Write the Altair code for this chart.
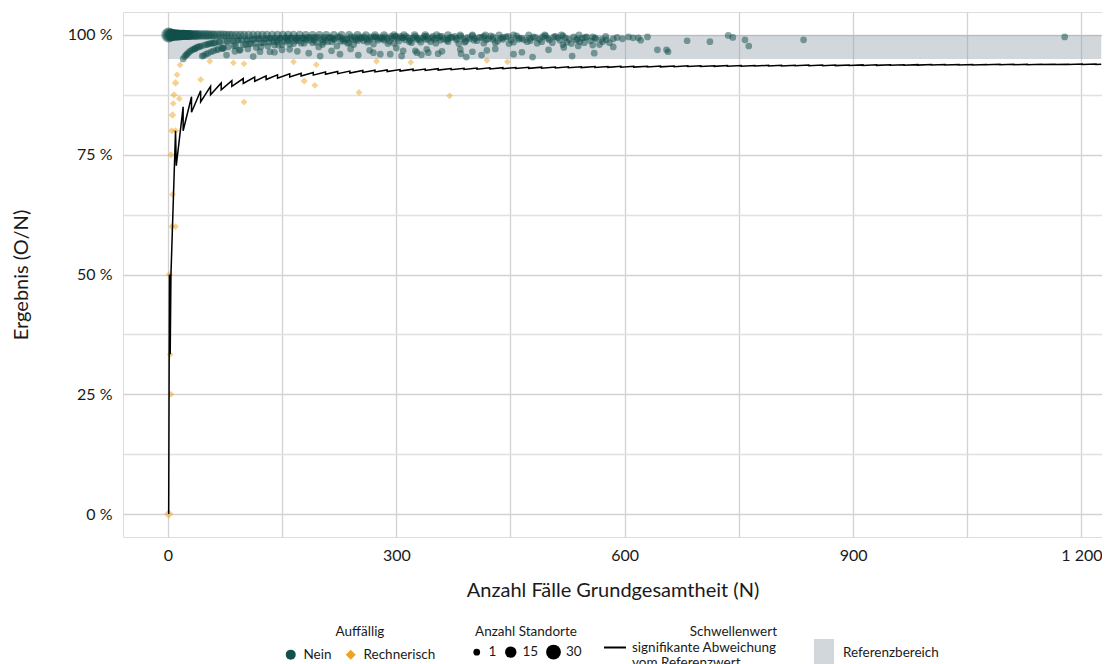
import altair as alt
import pandas as pd

FONT = "Lato"
TXT = "#1a1a1a"

# ---------------- data ----------------
# Auffaellig = "Nein": results at 100 %
top_n = [1, 2, 3, 4, 5, 6, 7, 8, 9, 10,
         11, 12, 13, 14, 15, 16, 17, 18, 19, 20,
         21, 22, 23, 24, 25, 26, 27, 28, 29, 30,
         32, 34, 36, 38, 40,
         43, 46, 49, 52, 55, 58, 61,
         65, 69, 73, 77, 81, 85,
         90, 95, 100,
         106, 112, 118, 124, 130,
         137, 144, 151, 158,
         165, 173, 181, 190, 199, 208, 218, 228, 238, 249, 260, 272, 284, 297,
         310, 324, 338, 353, 368, 384, 400, 417, 435, 454, 474, 495, 517, 540]
top_sites = [30, 24, 20, 18, 17, 16, 15, 15, 14, 14,
             13, 13, 13, 12, 12, 12, 12, 11, 11, 11,
             11, 11, 10, 10, 10, 10, 10, 10, 9, 9,
             9, 9, 9, 9, 8,
             8, 8, 8, 8, 7, 7, 7,
             7, 7, 7, 6, 6, 6,
             6, 6, 6,
             6, 5, 5, 5, 5,
             5, 5, 5, 5,
             5, 5, 4, 4, 4, 4, 4, 4, 4, 4, 3, 3, 3, 3,
             3, 3, 3, 3, 3, 2, 2, 2, 2, 2, 2, 2, 2, 2]

# "Nein": dense cloud between about 97.5 % and 100 %
mid_n = [42, 48, 51, 55, 58, 62, 64, 68, 71, 75,
         79, 83, 87, 91, 94, 97, 102, 105, 109, 113,
         116, 120, 123, 127, 131, 134, 138, 141, 145, 148,
         152, 156, 160, 163, 167, 171, 175, 178, 182, 186,
         190, 194, 198, 202, 206, 210, 214, 218, 222, 226,
         231, 235, 240, 244, 248, 252, 257, 261, 266, 270,
         275, 279, 284, 288, 293, 297, 302, 306, 311, 316,
         320, 325, 330, 335, 340, 345, 350, 355, 360, 366,
         371, 377, 382, 388, 394, 400, 406, 412, 418, 424,
         430, 437, 444, 451, 458, 465, 472, 480, 488, 496,
         505, 512, 519, 519, 527, 533, 541, 544, 550, 558,
         558, 567, 575, 576, 585, 597, 611, 618, 621, 630,
         682, 712, 736, 742, 758, 763, 835, 1178,
         144, 158, 169, 180, 192, 204, 216, 229, 238, 246,
         255, 264, 273, 282, 291, 300, 309, 318, 328, 338,
         348, 358, 368, 379, 391, 403, 415, 427, 440, 448,
         461, 476, 485, 492, 501, 509, 524, 538, 547, 562,
         571, 590, 605]
mid_pct = [97.6, 97.9, 98.0, 98.2, 98.3, 98.4, 96.9, 98.5, 97.2, 98.7,
           97.5, 98.8, 97.7, 98.9, 96.8, 99.0, 98.0, 99.0, 98.2, 99.1,
           97.4, 99.2, 98.4, 99.2, 97.7, 99.3, 98.6, 99.3, 97.9, 99.3,
           98.7, 99.4, 98.1, 99.4, 98.8, 99.4, 98.3, 99.4, 98.9, 99.5,
           98.4, 99.5, 97.5, 99.0, 99.5, 98.6, 99.5, 99.1, 97.7, 99.6,
           98.7, 99.1, 99.6, 98.0, 99.2, 99.6, 98.8, 99.2, 99.6, 98.1,
           99.3, 99.6, 98.9, 99.3, 99.7, 98.3, 99.3, 99.7, 99.0, 99.4,
           98.4, 99.7, 99.0, 99.4, 99.7, 98.6, 99.1, 99.4, 99.7, 98.9,
           99.5, 99.7, 98.2, 99.2, 99.5, 99.8, 98.8, 99.5, 99.0, 99.8,
           98.4, 99.3, 99.6, 98.9, 99.8, 99.3, 98.6, 99.6, 99.1, 99.8,
           98.4, 99.4, 99.8, 98.0, 99.1, 99.6, 98.6, 99.3, 99.6, 99.6,
           97.9, 98.0, 99.7, 99.0, 99.2, 99.2, 99.4, 99.4, 98.9, 99.6,
           98.8, 98.6, 99.9, 99.5, 99.0, 97.7, 99.0, 99.6,
           99.0, 99.0, 99.1, 99.2, 98.9, 98.5, 99.3, 99.2, 98.4, 99.0,
           99.4, 98.9, 99.6, 99.2, 98.7, 99.7, 99.4, 98.9, 99.4, 99.1,
           99.7, 98.9, 99.2, 99.3, 98.7, 99.3, 99.7, 99.1, 99.5, 98.2,
           99.1, 99.3, 98.3, 99.6, 99.0, 99.7, 98.5, 99.1, 98.4, 99.2,
           98.6, 99.5, 99.6]

# "Nein": further points of the dense cloud
mid2_n = [44, 53, 60, 67, 73, 78, 86, 89, 93, 99,
          103, 107, 111, 115, 119, 122, 126, 129, 133, 136,
          140, 143, 147, 150, 154, 157, 161, 165, 168, 172,
          176, 179, 183, 187, 191, 195, 199,
          203, 207, 211, 215, 219, 223, 227, 232, 236, 241,
          245, 249, 253, 258, 262, 267, 271, 276, 280, 285,
          289, 294, 298,
          303, 308, 313, 317, 322, 327, 332, 337, 342, 347,
          352, 357, 362, 368, 373, 379, 385, 390, 396,
          402, 409, 415, 421, 427, 433, 440, 447, 454, 461,
          468, 476, 483, 491, 499, 507, 515, 522, 530, 536,
          548, 555, 561, 570, 580]
mid2_pct = [97.7, 98.1, 98.3, 98.5, 97.3, 98.7, 98.8, 97.8, 98.9, 98.0,
            99.0, 98.1, 99.1, 98.3, 99.2, 97.5, 98.4, 99.2, 98.5, 99.3,
            97.9, 98.6, 99.3, 98.0, 99.4, 98.7, 99.4, 98.2, 99.4, 98.8,
            99.4, 98.3, 99.5, 98.9, 99.5, 98.5, 99.5,
            98.0, 99.0, 99.5, 98.6, 99.1, 99.6, 98.7, 99.1, 98.3, 99.2,
            99.6, 98.8, 99.2, 99.6, 98.5, 99.3, 99.6, 98.9, 99.3, 99.6,
            98.2, 99.3, 99.7,
            98.7, 99.4, 99.7, 98.6, 99.4, 99.1, 98.5, 99.7, 99.1, 99.4,
            98.3, 99.7, 99.2, 98.6, 99.5, 99.0, 99.7, 98.5, 99.2,
            98.9, 99.5, 98.3, 99.2, 99.6, 98.7, 99.1, 99.7, 98.5, 99.4,
            99.0, 98.8, 99.5, 98.6, 99.3, 99.6, 98.9, 99.4, 98.2, 99.0,
            99.5, 98.8, 99.4, 99.1, 98.4]

# "Nein": lighter scattered points inside the reference band
low_n = [20, 22, 24, 25, 27, 29, 31, 33, 36, 38,
         45, 50, 57, 66, 77, 95, 121, 134, 150, 170,
         200, 226, 250, 265, 279, 292, 307, 309, 325, 327,
         340, 342, 355, 384, 385, 392, 412, 419, 454, 479,
         531, 539, 643, 655, 657,
         35, 40, 47, 53, 60, 72, 88, 105, 112, 140,
         160, 185, 215, 240, 270, 300, 333, 360, 400, 430,
         465, 500, 520, 560, 585]
low_pct = [95.0, 95.5, 95.8, 96.0, 96.3, 96.6, 96.8, 97.0, 97.2, 97.4,
           95.6, 96.0, 96.5, 97.0, 95.8, 96.9, 96.5, 96.5, 96.9, 96.6,
           95.6, 96.0, 95.8, 96.8, 96.0, 96.0, 95.6, 96.7, 96.7, 96.3,
           97.0, 96.3, 96.1, 97.0, 96.1, 95.4, 95.8, 96.8, 96.0, 95.4,
           95.6, 97.7, 96.9, 96.9, 96.5,
           97.1, 97.5, 95.7, 96.2, 96.7, 97.2, 96.6, 97.1, 95.5, 96.4,
           97.0, 96.2, 96.7, 97.1, 96.3, 97.3, 95.9, 96.6, 96.5, 97.1,
           96.4, 96.9, 97.4, 96.2, 97.5]

# Auffaellig = "Rechnerisch"
or_n = [1, 4, 3, 2, 5, 10, 6, 4, 5, 10,
        6, 7, 15, 8, 10, 12, 16, 43, 55, 86,
        100, 100, 165, 179, 193, 195, 251, 274, 319, 370,
        419, 446]
or_pct = [0, 25, 33.3, 50, 60, 60, 66.7, 75, 80, 80,
          83.3, 85.7, 86.7, 87.5, 90, 91.7, 93.75, 90.7, 94.5, 94.2,
          94, 86, 94.4, 90.4, 89.5, 93.8, 88.0, 94.5, 94.3, 87.3,
          94.7, 94.4]
or_sites = [8, 1, 1, 2, 1, 1, 1, 2, 2, 2,
            3, 1, 1, 2, 3, 1, 1, 1, 1, 1,
            1, 1, 1, 2, 1, 1, 1, 1, 1, 1,
            1, 1]

# threshold line (Schwellenwert) - vertices of the saw-tooth
thr_start_n = [1, 2, 3, 4, 10, 11]
thr_start_pct = [0, 50, 33.33, 50, 80, 72.73]
drop_n = [20, 31, 43, 56, 70, 84, 99, 114, 129, 144,
          160, 175, 191, 207, 223, 239, 256, 272, 288, 305,
          322, 338, 355, 372, 389, 406, 423, 440, 457, 474,
          491, 509, 526, 543, 561, 578, 595, 612, 630, 647,
          665, 683, 700, 718, 735, 753, 771, 789, 806, 824,
          842, 860, 877, 895, 913, 931, 949, 967, 985, 1003,
          1021, 1039, 1057, 1075, 1093, 1111, 1129, 1148, 1165, 1183,
          1201, 1219]
drop_peak = [85.00, 87.10, 88.37, 89.29, 90.00, 90.48, 90.91, 91.23, 91.47, 91.67,
             91.88, 92.00, 92.15, 92.27, 92.38, 92.47, 92.58, 92.65, 92.71, 92.79,
             92.86, 92.90, 92.96, 93.01, 93.06, 93.10, 93.14, 93.18, 93.22, 93.25,
             93.28, 93.32, 93.35, 93.37, 93.40, 93.43, 93.45, 93.46, 93.49, 93.51,
             93.53, 93.56, 93.57, 93.59, 93.61, 93.63, 93.64, 93.66, 93.67, 93.69,
             93.71, 93.72, 93.73, 93.74, 93.76, 93.77, 93.78, 93.80, 93.81, 93.82,
             93.83, 93.84, 93.85, 93.86, 93.87, 93.88, 93.89, 93.90, 93.91, 93.91,
             93.92, 93.93]
drop_trough = [80.00, 83.87, 86.05, 87.50, 88.57, 89.29, 89.90, 90.35, 90.70, 90.97,
               91.25, 91.43, 91.62, 91.79, 91.93, 92.05, 92.19, 92.28, 92.36, 92.46,
               92.55, 92.60, 92.68, 92.74, 92.80, 92.86, 92.91, 92.95, 93.00, 93.04,
               93.08, 93.12, 93.16, 93.19, 93.23, 93.25, 93.28, 93.30, 93.33, 93.35,
               93.38, 93.41, 93.43, 93.45, 93.47, 93.49, 93.51, 93.54, 93.55, 93.57,
               93.59, 93.60, 93.61, 93.63, 93.65, 93.66, 93.68, 93.69, 93.71, 93.72,
               93.73, 93.74, 93.76, 93.77, 93.78, 93.79, 93.80, 93.82, 93.82, 93.83,
               93.84, 93.85]
thr_end_n = [1226]
thr_end_pct = [93.88]

# reference range (Referenzbereich)
ref_pct = [95, 100]
ref_n = [0, 1226]

assert len(top_n) == len(top_sites)
assert len(mid_n) == len(mid_pct)
assert len(mid2_n) == len(mid2_pct)
assert len(low_n) == len(low_pct)
assert len(or_n) == len(or_pct) == len(or_sites)
assert len(drop_n) == len(drop_peak) == len(drop_trough)

# ---------------- tables ----------------
rows = []
for n, s in zip(top_n, top_sites):
    rows.append({"N": n, "pct": 100.0, "sites": s, "auff": "Nein"})
for n, p in zip(mid_n + mid2_n, mid_pct + mid2_pct):
    rows.append({"N": n, "pct": p, "sites": 1, "auff": "Nein"})
for n, p in zip(low_n, low_pct):
    rows.append({"N": n, "pct": p, "sites": 1, "auff": "Nein"})
for n, p, s in zip(or_n, or_pct, or_sites):
    rows.append({"N": n, "pct": p, "sites": s, "auff": "Rechnerisch"})
pts = pd.DataFrame(rows)

trows = []
for n, p in zip(thr_start_n, thr_start_pct):
    trows.append((n, p))
for n, pk, tr in zip(drop_n, drop_peak, drop_trough):
    trows.append((n, pk))
    trows.append((n, tr))
for n, p in zip(thr_end_n, thr_end_pct):
    trows.append((n, p))
thr = pd.DataFrame(trows, columns=["N", "pct"])
thr["i"] = range(len(thr))
thr["lab"] = "sig"

band = pd.DataFrame({"x1": [ref_n[0]], "x2": [ref_n[1]],
                     "y1": [ref_pct[0]], "y2": [ref_pct[1]],
                     "lab": ["Referenzbereich"]})

# ---------------- scales / axes ----------------
xscale = alt.Scale(domain=[-59, 1227], nice=False, zero=False)
yscale = alt.Scale(domain=[-4.8, 104.8], nice=False, zero=False)

xaxis = alt.Axis(
    values=[0, 150, 300, 450, 600, 750, 900, 1050, 1200],
    labelExpr="datum.value % 300 == 0 ? replace(format(datum.value, ','), ',', ' ') : ''",
    title="Anzahl Fälle Grundgesamtheit (N)",
    domain=False, ticks=False, grid=True,
    gridColor="#d2d2d2", gridWidth=1.3,
    labelFontSize=16, titleFontSize=20, labelPadding=10, titlePadding=17,
    labelFont=FONT, titleFont=FONT, labelColor=TXT, titleColor=TXT,
    titleFontWeight="normal",
)
yaxis = alt.Axis(
    values=[0, 12.5, 25, 37.5, 50, 62.5, 75, 87.5, 100],
    labelExpr="datum.value % 25 == 0 ? datum.value + ' %' : ''",
    title="Ergebnis (O/N)",
    domain=False, ticks=False, grid=True,
    gridColor={"condition": {"test": "datum.value % 25 == 0", "value": "#d2d2d2"},
               "value": "#e0e0e0"},
    gridWidth=1.3,
    labelFontSize=16, titleFontSize=20, labelPadding=11, titlePadding=36,
    labelFont=FONT, titleFont=FONT, labelColor=TXT, titleColor=TXT,
    titleFontWeight="normal",
)

LEG = dict(orient="none", direction="horizontal", padding=0,
           labelFont=FONT, titleFont=FONT, labelFontSize=13.5, titleFontSize=13.5,
           titleFontWeight="normal", labelColor=TXT, titleColor=TXT,
           titleOrient="top")

leg_auff = alt.Legend(title="Auffällig", legendX=161, legendY=613, titleAnchor="middle",
                      symbolSize=100, symbolOpacity=1, symbolStrokeWidth=0,
                      labelOffset=6, columnPadding=12, titlePadding=9, **LEG)
leg_size = alt.Legend(title="Anzahl Standorte", legendX=347, legendY=613, titleAnchor="middle",
                      values=[1, 15, 30], symbolType="circle",
                      symbolFillColor="black", symbolStrokeColor="black",
                      symbolOpacity=1, symbolStrokeWidth=0,
                      labelOffset=5, columnPadding=7, titlePadding=6, **LEG)
leg_thr = alt.Legend(title="Schwellenwert", legendX=480, legendY=613, titleAnchor="end",
                     symbolType="stroke", symbolSize=484, symbolStrokeWidth=2,
                     labelExpr="['signifikante Abweichung', 'vom Referenzwert']",
                     labelOffset=5, titlePadding=-3, labelLimit=300, **LEG)
leg_band = alt.Legend(title=None, legendX=687, legendY=627,
                      symbolType="M-0.72,-1L0.72,-1L0.72,1L-0.72,1Z",
                      symbolSize=784, symbolOpacity=0.4, symbolStrokeWidth=0,
                      labelOffset=5,
                      **{k: v for k, v in LEG.items() if k != "titleOrient"})

band_layer = alt.Chart(band).mark_rect(opacity=0.4).encode(
    x=alt.X("x1:Q", scale=xscale, axis=xaxis),
    x2="x2:Q",
    y=alt.Y("y1:Q", scale=yscale, axis=yaxis),
    y2="y2:Q",
    fill=alt.Fill("lab:N", scale=alt.Scale(domain=["Referenzbereich"], range=["#8d9aa4"]),
                  legend=leg_band),
)

pt_layer = alt.Chart(pts).mark_point(filled=True, opacity=0.5, strokeWidth=0).encode(
    x=alt.X("N:Q", scale=xscale, axis=xaxis),
    y=alt.Y("pct:Q", scale=yscale, axis=yaxis),
    color=alt.Color("auff:N", scale=alt.Scale(domain=["Nein", "Rechnerisch"],
                                              range=["#12504c", "#eba325"]),
                    legend=leg_auff),
    shape=alt.Shape("auff:N", scale=alt.Scale(domain=["Nein", "Rechnerisch"],
                                              range=["circle", "diamond"]),
                    legend=leg_auff),
    size=alt.Size("sites:Q", scale=alt.Scale(domain=[1, 30], range=[45, 220], zero=False),
                  legend=leg_size),
)

line_layer = alt.Chart(thr).mark_line(strokeWidth=1.5).encode(
    x=alt.X("N:Q", scale=xscale, axis=xaxis),
    y=alt.Y("pct:Q", scale=yscale, axis=yaxis),
    order=alt.Order("i:Q"),
    stroke=alt.Stroke("lab:N", scale=alt.Scale(domain=["sig"], range=["black"]),
                      legend=leg_thr),
)

chart = alt.layer(band_layer, pt_layer, line_layer).properties(
    width=979, height=525,
    padding={"left": 115, "top": 4, "right": 0, "bottom": 140},
    autosize=alt.AutoSizeParams(type="none"),
).configure_view(stroke=None).configure(background="white")

chart.save("out.html", embed_options={"renderer": "svg", "actions": False})
